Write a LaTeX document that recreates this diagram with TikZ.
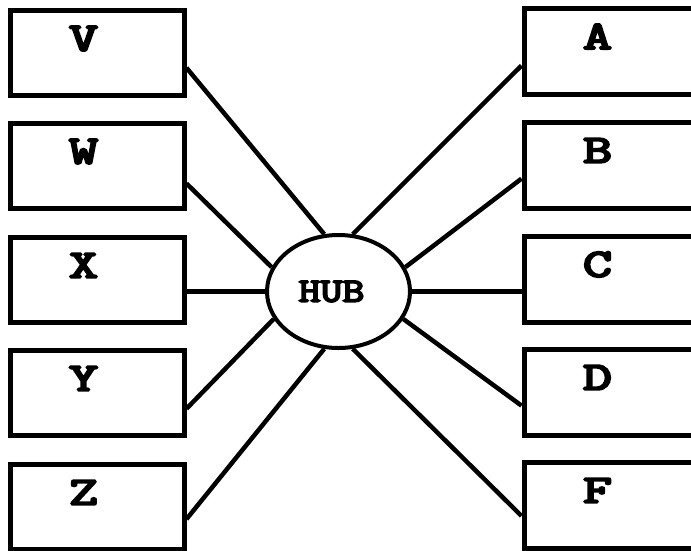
\documentclass[tikz,border=0pt]{standalone}
\usepackage{fontspec}
\newfontfamily\tagfont{Latin Modern Mono}[FakeBold=5]
\usetikzlibrary{calc,shapes.geometric}
\begin{document}
\begin{tikzpicture}[x=1pt,y=-1pt,
  station/.style={draw,line width=5pt,rectangle,minimum width=174pt,minimum height=85pt,inner sep=0pt},
  rstation/.style={station,minimum width=200pt,minimum height=86pt},
  tag/.style={font=\tagfont\fontsize{40}{40}\selectfont,inner sep=0pt,anchor=center,xscale=1.4},
  hubshape/.style={draw,line width=4pt,ellipse,minimum width=143pt,minimum height=113pt,inner sep=0pt},
  wire/.style={line width=4.5pt}]
\useasboundingbox (0,0) rectangle (691,550);
\clip (0,0) rectangle (691,550);
\fill[white] (0,0) rectangle (691,550);

% central hub
\node[hubshape] (hub) at (338.5,291.5) {};
\node[font=\tagfont\fontsize{34}{34}\selectfont,inner sep=0pt,xscale=1.25] (hubtext) at ([xshift=-7pt]hub.center) {HUB};

% left column of stations
\node[station] (v) at (97,52.5) {};
\node[station] (w) at (97,165.5) {};
\node[station] (x) at (97,279.5) {};
\node[station] (y) at (97,392.5) {};
\node[station] (z) at (97,506.5) {};

% right column of stations (running past the right edge)
\node[rstation] (a) at (624,51) {};
\node[rstation] (b) at (624,165) {};
\node[rstation] (c) at (624,279) {};
\node[rstation] (d) at (624,392) {};
\node[rstation] (f) at (624,505) {};

% station letters
\foreach \n/\t in {v/V,w/W,x/X,y/Y,z/Z,a/A,b/B,c/C,d/D,f/F}
  \node[tag] (\n tag) at ($(\n.north west)+(76,31)$) {\t};

% connectors from the hub to every station
\draw[wire] (hub.104) -- ($(v.north east)!0.67!(v.south east)$);
\draw[wire] (hub.160) -- ($(w.north east)!0.70!(w.south east)$);
\draw[wire] (hub.west) -- (hub.west -| x.east);
\draw[wire] (hub.203) -- ($(y.north east)!0.68!(y.south east)$);
\draw[wire] (hub.256) -- ($(z.north east)!0.64!(z.south east)$);
\draw[wire] (hub.76) -- ($(a.north west)!0.66!(a.south west)$);
\draw[wire] (hub.20) -- ($(b.north west)!0.65!(b.south west)$);
\draw[wire] (hub.east) -- (hub.east -| c.west);
\draw[wire] (hub.-23) -- ($(d.north west)!0.65!(d.south west)$);
\draw[wire] (hub.-76) -- ($(f.north west)!0.62!(f.south west)$);
\end{tikzpicture}
\end{document}
